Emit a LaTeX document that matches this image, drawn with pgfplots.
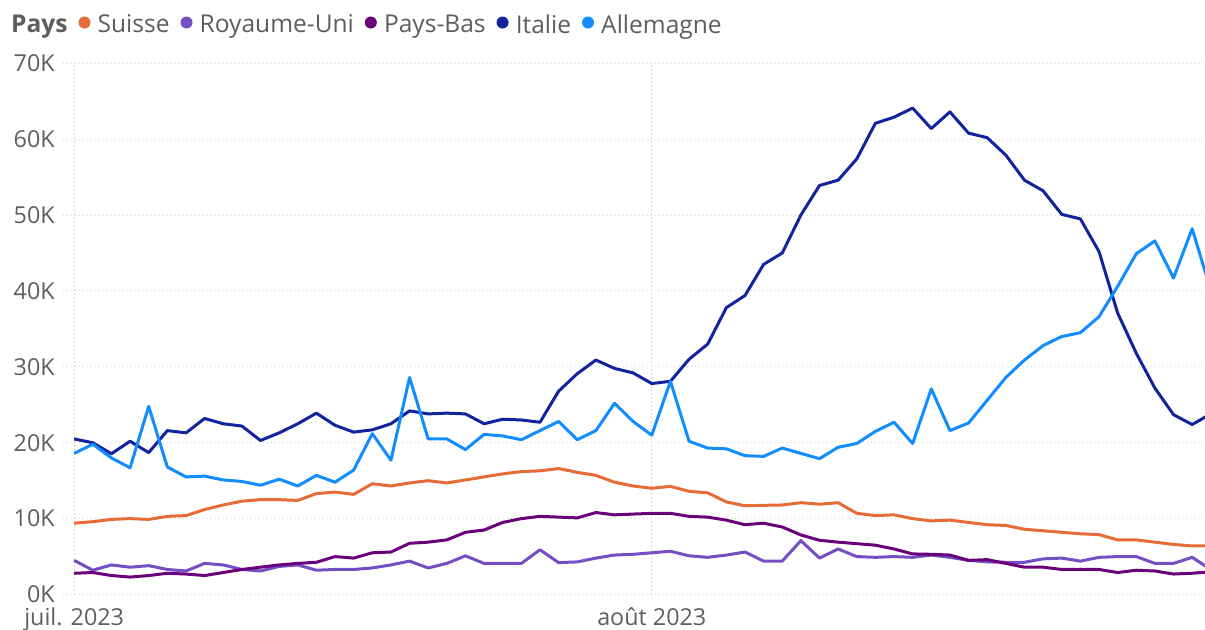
\documentclass[border=0pt]{standalone}
\usepackage{fontspec}
\setmainfont{Open Sans}
\usepackage{pgfplots}
\usepackage{pgfplotstable}
\pgfplotsset{compat=1.18}
\definecolor{cSuisse}{HTML}{E66C37}
\definecolor{cUK}{HTML}{744EC2}
\definecolor{cNL}{HTML}{6B007B}
\definecolor{cIT}{HTML}{12239E}
\definecolor{cDE}{HTML}{118DFF}
\definecolor{txt}{HTML}{605E5C}
\definecolor{gridc}{HTML}{D6D6D6}
\pgfplotsset{
  dotlegend/.style={legend image code/.code={\fill[##1,draw=none] (4.5pt,1.8pt) circle (4.5pt);}}
}
\pgfplotstableread{
x ch uk nl it de
0 9.4 4.5 2.8 20.5 18.6
1 9.6 3.2 2.9 20.0 19.8
2 9.9 3.9 2.5 18.55 18.0
3 10.0 3.6 2.3 20.2 16.7
4 9.9 3.8 2.5 18.7 24.8
5 10.3 3.3 2.8 21.6 16.8
6 10.4 3.1 2.7 21.3 15.5
7 11.2 4.1 2.5 23.2 15.6
8 11.8 3.9 2.9 22.5 15.1
9 12.3 3.3 3.3 22.2 14.9
10 12.5 3.1 3.6 20.3 14.4
11 12.5 3.7 3.9 21.3 15.2
12 12.4 3.9 4.1 22.5 14.3
13 13.3 3.2 4.25 23.9 15.7
14 13.5 3.3 5.0 22.3 14.8
15 13.2 3.3 4.8 21.4 16.4
16 14.6 3.5 5.5 21.7 21.2
17 14.3 3.9 5.6 22.5 17.7
18 14.7 4.4 6.75 24.2 28.6
19 15.0 3.5 6.9 23.8 20.5
20 14.7 4.1 7.2 23.9 20.5
21 15.1 5.1 8.2 23.8 19.1
22 15.5 4.1 8.5 22.5 21.1
23 15.9 4.1 9.5 23.1 20.9
24 16.2 4.1 10.0 23.0 20.4
25 16.3 5.9 10.3 22.7 21.6
26 16.6 4.2 10.2 26.8 22.8
27 16.1 4.3 10.1 29.1 20.4
28 15.7 4.8 10.8 30.9 21.6
29 14.8 5.2 10.5 29.8 25.2
30 14.3 5.3 10.6 29.2 22.8
31 14.0 5.5 10.7 27.8 21.0
32 14.25 5.7 10.7 28.1 28.1
33 13.6 5.1 10.3 31.0 20.2
34 13.4 4.9 10.2 33.0 19.3
35 12.2 5.2 9.8 37.8 19.2
36 11.7 5.6 9.2 39.4 18.3
37 11.75 4.4 9.4 43.5 18.2
38 11.8 4.4 8.9 45.0 19.3
39 12.1 7.1 7.85 50.0 18.6
40 11.9 4.8 7.15 53.9 17.9
41 12.1 6.0 6.9 54.6 19.4
42 10.7 5.0 6.7 57.4 19.9
43 10.4 4.9 6.5 62.1 21.5
44 10.5 5.0 6.0 62.9 22.7
45 10.0 4.9 5.35 64.1 19.9
46 9.7 5.2 5.3 61.4 27.1
47 9.8 4.9 5.2 63.6 21.6
48 9.5 4.5 4.5 60.8 22.6
49 9.2 4.3 4.6 60.2 25.6
50 9.1 4.25 4.1 57.9 28.6
51 8.6 4.25 3.6 54.6 30.9
52 8.4 4.7 3.6 53.2 32.8
53 8.2 4.8 3.3 50.1 34.0
54 8.0 4.4 3.3 49.5 34.5
55 7.9 4.9 3.3 45.2 36.6
56 7.2 5.0 2.9 37.1 40.6
57 7.2 5.0 3.2 31.8 44.9
58 6.9 4.1 3.1 27.2 46.6
59 6.6 4.1 2.7 23.7 41.7
60 6.4 4.9 2.8 22.4 48.2
61 6.4 3.3 3.0 23.8 40.1
}\data
\begin{document}
\begin{tikzpicture}
\begin{axis}[
  scale only axis,
  width=856.5pt, height=398.4pt,
  xmin=-0.6, xmax=60.69, ymin=0, ymax=70,
  xtick={0,31}, xticklabels={juil. 2023,août 2023},
  ytick={0,10,...,70}, yticklabels={0K,10K,20K,30K,40K,50K,60K,70K},
  grid=major,
  major grid style={gridc, line width=0.75pt, dash pattern=on 0.9pt off 2.1pt},
  axis line style={draw=none},
  major tick length=0pt,
  tick label style={font=\fontsize{17.5}{20}\selectfont, text=txt},
  yticklabel style={inner sep=0pt, anchor=east, xshift=-6pt},
  xticklabel style={inner sep=0pt, anchor=north, yshift=-9.4pt},
  dotlegend,
  legend columns=-1,
  legend style={draw=none, fill=none, inner sep=0pt, outer sep=0pt,
    at={(axis description cs:0,1)}, anchor=west,
    xshift=-44.25pt, yshift=28.8pt,
    font=\fontsize{18.4}{21}\selectfont, text=txt,
    nodes={inner sep=0pt},
    /tikz/every odd column/.append style={column sep=5.4pt},
    /tikz/every even column/.append style={column sep=8.2pt}},
  every axis plot/.append style={line width=2.25pt, line join=round, no markers},
]
\addlegendimage{empty legend}
\addlegendentry{\textbf{Pays}}
\addplot[cSuisse] table[x=x,y=ch]{\data};
\addlegendentry{Suisse}
\addplot[cUK] table[x=x,y=uk]{\data};
\addlegendentry{Royaume-Uni}
\addplot[cNL] table[x=x,y=nl]{\data};
\addlegendentry{Pays-Bas}
\addplot[cIT] table[x=x,y=it]{\data};
\addlegendentry{Italie}
\addplot[cDE] table[x=x,y=de]{\data};
\addlegendentry{Allemagne}
\end{axis}
\pgfresetboundingbox
\path ([shift={(-47.25pt,-25.9pt)}]current axis.south west) rectangle ([shift={(0pt,47.5pt)}]current axis.north east);
\end{tikzpicture}
\end{document}
